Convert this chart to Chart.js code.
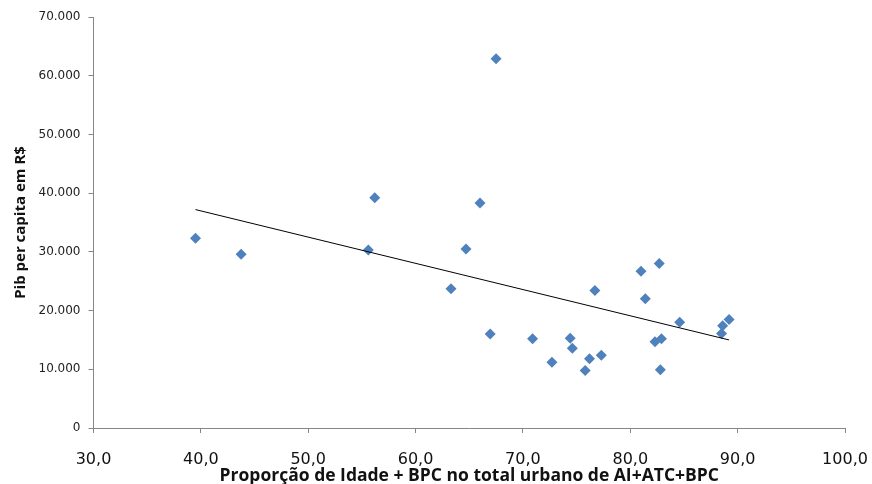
<!DOCTYPE html>
<html>
<head>
<meta charset="utf-8">
<script src="https://cdn.jsdelivr.net/npm/chart.js@4/dist/chart.umd.min.js"></script>
<style>
  html, body { margin: 0; padding: 0; background: #fff; }
</style>
</head>
<body>
<canvas id="chart" width="872" height="484"></canvas>
<script>
// share of Idade + BPC (%) and Pib per capita (R$) per city
const propIdadeBpc = [39.5, 43.75, 55.6, 56.2, 66.0, 64.7, 63.3, 67.5, 66.95, 70.9, 72.7, 74.4, 74.6, 75.8,
  76.2, 77.3, 76.7, 81.0, 82.7, 81.4, 84.6, 82.3, 82.9, 82.8, 88.6, 88.5, 89.2];
const pibPerCapita = [32300, 29600, 30300, 39200, 38300, 30500, 23700, 62900, 16000, 15200, 11200, 15300, 13600, 9800,
  11800, 12400, 23400, 26700, 28000, 22000, 18000, 14700, 15200, 9900, 17400, 16100, 18500];

// linear trend line, ends
const trendX = [39.5, 89.2];
const trendY = [37200, 15000];

const xTicks = [30, 40, 50, 60, 70, 80, 90, 100];
const yTicks = [0, 10000, 20000, 30000, 40000, 50000, 60000, 70000];

const axisGray = '#868686';

const points = propIdadeBpc.map((x, i) => ({ x: x, y: pibPerCapita[i] }));
const trend = trendX.map((x, i) => ({ x: x, y: trendY[i] }));

const fmtY = v => String(v).replace(/\B(?=(\d{3})+(?!\d))/g, '.');
const fmtX = v => v.toFixed(1).replace('.', ',');

new Chart(document.getElementById('chart').getContext('2d'), {
  type: 'scatter',
  data: {
    datasets: [
      {
        label: 'Linear',
        data: trend,
        showLine: true,
        borderColor: '#000',
        borderWidth: 1,
        pointRadius: 0,
        order: 0
      },
      {
        label: 'Pib per capita',
        data: points,
        pointStyle: 'rectRot',
        pointRadius: 5.5,
        backgroundColor: '#4f81bd',
        borderColor: '#4f81bd',
        borderWidth: 0,
        order: 1
      }
    ]
  },
  options: {
    responsive: false,
    animation: false,
    devicePixelRatio: 1,
    layout: { padding: { left: 0, right: 27, top: 17, bottom: 0 } },
    plugins: {
      legend: { display: false },
      tooltip: { enabled: false }
    },
    scales: {
      x: {
        type: 'linear',
        min: 30,
        max: 100,
        afterBuildTicks: s => { s.ticks = xTicks.map(v => ({ value: v })); },
        // keep the tick padding from widening the right margin
        afterFit: s => { s.height = 56; s.paddingLeft = 0; s.paddingRight = 20; },
        grid: { drawOnChartArea: false, tickLength: 5, color: axisGray },
        border: { color: axisGray },
        ticks: {
          callback: fmtX,
          color: '#111',
          padding: 17,
          maxRotation: 0,
          font: { family: 'DejaVu Sans', size: 16 }
        },
        title: {
          display: true,
          text: 'Proporção de Idade + BPC no total urbano de AI+ATC+BPC',
          color: '#111',
          padding: { top: 0, bottom: -3 },
          font: { family: 'Open Sans', size: 17.5, weight: 'bold' }
        }
      },
      y: {
        type: 'linear',
        min: 0,
        max: 70000,
        afterBuildTicks: s => { s.ticks = yTicks.map(v => ({ value: v })); },
        afterFit: s => { s.width = 93.5; },
        grid: { drawOnChartArea: false, tickLength: 5, color: axisGray },
        border: { color: axisGray },
        ticks: {
          callback: fmtY,
          color: '#222',
          padding: 8,
          font: { family: 'DejaVu Sans', size: 12 }
        },
        title: {
          display: true,
          text: 'Pib per capita em R$',
          color: '#111',
          padding: { top: 12, bottom: 0 },
          font: { family: 'Open Sans', size: 15, weight: 'bold' }
        }
      }
    }
  }
});
</script>
</body>
</html>
